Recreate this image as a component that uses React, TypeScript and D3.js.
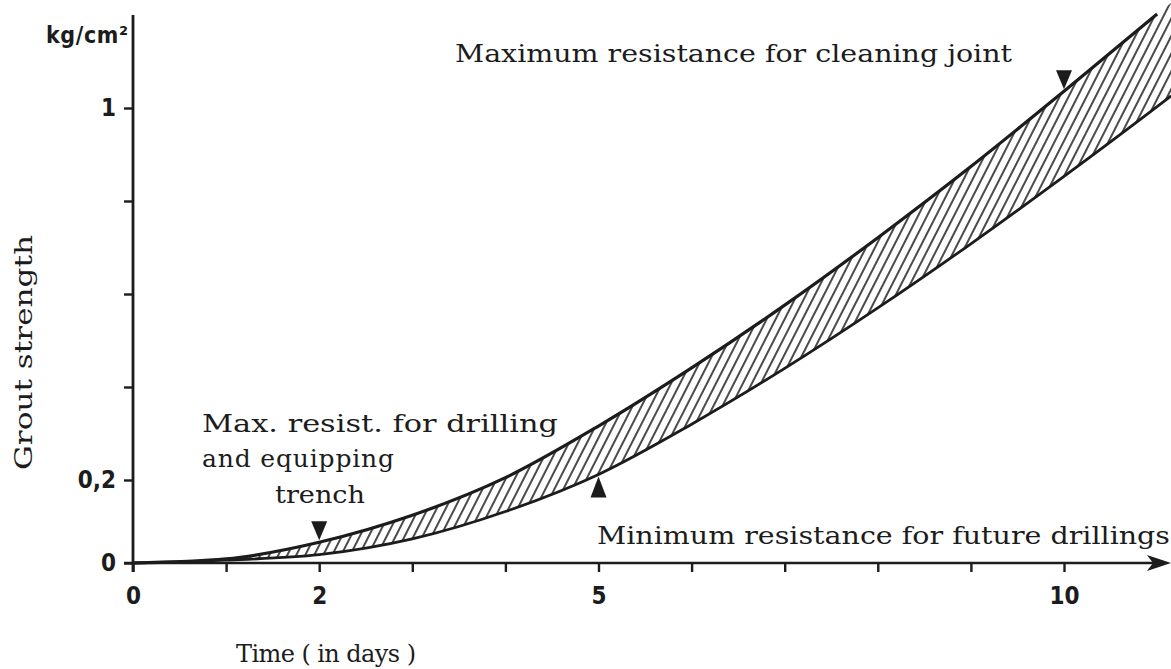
import React, { useEffect, useRef } from 'react';
import * as d3 from 'd3';

// values (days, kg/cm²)
const days = [0, 1, 2, 3, 4, 5, 6, 7, 8, 9, 10, 11, 11.15];
const maxStrength = [0, 0.01, 0.05, 0.115, 0.205, 0.316, 0.441, 0.576, 0.721, 0.874, 1.036, 1.202, 1.226];
const minStrength = [0, 0.007, 0.02, 0.058, 0.124, 0.212, 0.32, 0.44, 0.57, 0.708, 0.853, 1.003, 1.026];

const xTicks = [0, 1, 2, 3, 4, 5, 6, 7, 8, 9, 10];
const xTickLabels = ['0', '', '2', '', '', '5', '', '', '', '', '10'];
const yTicks = [0, 0.2, 0.4, 0.6, 0.8, 1];
const yTickLabels = ['0', '0,2', '', '', '', '1'];

// triangle markers: day, which curve
const markerDays = [2, 5, 10];
const markerCurves = ['max', 'min', 'max'];

const W = 1171;
const H = 669;
const INK = '#1c1c1c';
const SERIF = '"DejaVu Serif", "Liberation Serif", serif';
const LABEL = '"DejaVu Sans Condensed", "DejaVu Sans", "Liberation Sans Narrow", sans-serif';

const App = () => {
    const chartRef = useRef<SVGSVGElement>(null);

    useEffect(() => {
        const svg = d3.select(chartRef.current);
        svg.selectAll('*').remove();

        const x = d3.scaleLinear().domain([0, 10]).range([133, 1064]);
        // the printed axis is not quite even between 0 and 0,2
        const y = d3.scaleLinear().domain([0, 0.2, 1]).range([563, 480, 108]);

        const rows = days.map((d, i) => ({ day: d, max: maxStrength[i], min: minStrength[i] }));

        // hatching
        const defs = svg.append('defs');
        const pat = defs
            .append('pattern')
            .attr('id', 'hatch')
            .attr('patternUnits', 'userSpaceOnUse')
            .attr('width', 8)
            .attr('height', 8)
            .attr('patternTransform', 'rotate(27)');
        pat.append('line')
            .attr('x1', 4).attr('y1', -1).attr('x2', 4).attr('y2', 9)
            .attr('stroke', INK).attr('stroke-width', 1.6);

        const area = d3
            .area<any>()
            .x((d) => x(d.day))
            .y0((d) => y(d.min))
            .y1((d) => y(d.max))
            .curve(d3.curveMonotoneX);

        svg.append('path').attr('d', area(rows)).attr('fill', 'url(#hatch)');

        const upper = d3.line<any>().x((d) => x(d.day)).y((d) => y(d.max)).curve(d3.curveMonotoneX);
        const lower = d3.line<any>().x((d) => x(d.day)).y((d) => y(d.min)).curve(d3.curveMonotoneX);

        svg.append('path')
            .attr('d', upper(rows.filter((d) => d.day <= 11)))
            .attr('fill', 'none').attr('stroke', INK).attr('stroke-width', 3.2);
        svg.append('path')
            .attr('d', lower(rows))
            .attr('fill', 'none').attr('stroke', INK).attr('stroke-width', 2.8);

        // x axis
        const xAxis = svg
            .append('g')
            .attr('transform', `translate(0,${y(0)})`)
            .call(d3.axisBottom(x).tickValues(xTicks).tickSize(9).tickPadding(15).tickFormat((_, i) => xTickLabels[i]));
        xAxis.select('.domain').remove();
        xAxis.selectAll('line').attr('stroke', INK).attr('stroke-width', 2.4);
        xAxis.selectAll('text')
            .attr('fill', INK).attr('font-family', LABEL).attr('font-weight', 'bold').attr('font-size', 24);

        svg.append('line')
            .attr('x1', 124).attr('x2', 1154).attr('y1', y(0)).attr('y2', y(0))
            .attr('stroke', INK).attr('stroke-width', 2.6);
        svg.append('path')
            .attr('d', `M${W},${y(0)} L${W - 24},${y(0) - 8} L${W - 18},${y(0)} L${W - 24},${y(0) + 8} Z`)
            .attr('fill', INK);

        // y axis
        const yAxis = svg
            .append('g')
            .attr('transform', `translate(${x(0)},0)`)
            .call(d3.axisLeft(y).tickValues(yTicks).tickSize(9).tickPadding(8).tickFormat((_, i) => yTickLabels[i]));
        yAxis.select('.domain').remove();
        yAxis.selectAll('line').attr('stroke', INK).attr('stroke-width', 2.4);
        yAxis.selectAll('text')
            .attr('fill', INK).attr('font-family', LABEL).attr('font-weight', 'bold').attr('font-size', 24);

        svg.append('line')
            .attr('x1', x(0)).attr('x2', x(0)).attr('y1', 15).attr('y2', y(0) + 9)
            .attr('stroke', INK).attr('stroke-width', 2.8);

        svg.append('text')
            .attr('x', 128).attr('y', 43).attr('text-anchor', 'end')
            .attr('textLength', 82)
            .attr('font-family', LABEL).attr('font-weight', 'bold').attr('font-size', 23).attr('fill', INK)
            .text('kg/cm²');

        // triangles
        markerDays.forEach((d, i) => {
            const idx = days.indexOf(d);
            const cx = x(d);
            if (markerCurves[i] === 'max') {
                const cy = y(maxStrength[idx]) - 2;
                svg.append('path')
                    .attr('d', `M${cx - 8},${cy - 19} L${cx + 8},${cy - 19} L${cx},${cy} Z`)
                    .attr('fill', INK);
            } else {
                const cy = y(minStrength[idx]) + 2;
                svg.append('path')
                    .attr('d', `M${cx - 8},${cy + 21} L${cx + 8},${cy + 21} L${cx},${cy} Z`)
                    .attr('fill', INK);
            }
        });

        // annotations (the printed face is wider than DejaVu Serif, so stretch)
        const notes = [
            { t: 'Maximum resistance for cleaning joint', x: 455, y: 62, w: 557, s: 25, adj: 'spacingAndGlyphs' },
            { t: 'Max. resist. for drilling', x: 202, y: 432, w: 356, s: 25, adj: 'spacingAndGlyphs' },
            { t: 'and equipping', x: 202, y: 467, w: 192, s: 25, adj: 'spacing' },
            { t: 'trench', x: 275, y: 503, w: 90, s: 25, adj: 'spacingAndGlyphs' },
            { t: 'Minimum resistance for future drillings', x: 597, y: 544, w: 573, s: 25, adj: 'spacingAndGlyphs' },
            { t: 'Time ( in days )', x: 236, y: 662, w: 180, s: 24, adj: 'spacing' },
        ];
        notes.forEach((n) => {
            svg.append('text')
                .attr('x', n.x).attr('y', n.y)
                .attr('textLength', n.w)
                .attr('lengthAdjust', n.adj)
                .attr('font-family', SERIF).attr('font-size', n.s).attr('fill', INK)
                .text(n.t);
        });

        svg.append('text')
            .attr('transform', 'translate(32,470) rotate(-90)')
            .attr('textLength', 235)
            .attr('lengthAdjust', 'spacingAndGlyphs')
            .attr('font-family', SERIF).attr('font-size', 25).attr('fill', INK)
            .text('Grout strength');
    }, []);

    return (
        <svg
            ref={chartRef}
            width={W}
            height={H}
            style={{ position: 'absolute', left: 0, top: 0, background: '#fff' }}
        />
    );
};

export default App;
